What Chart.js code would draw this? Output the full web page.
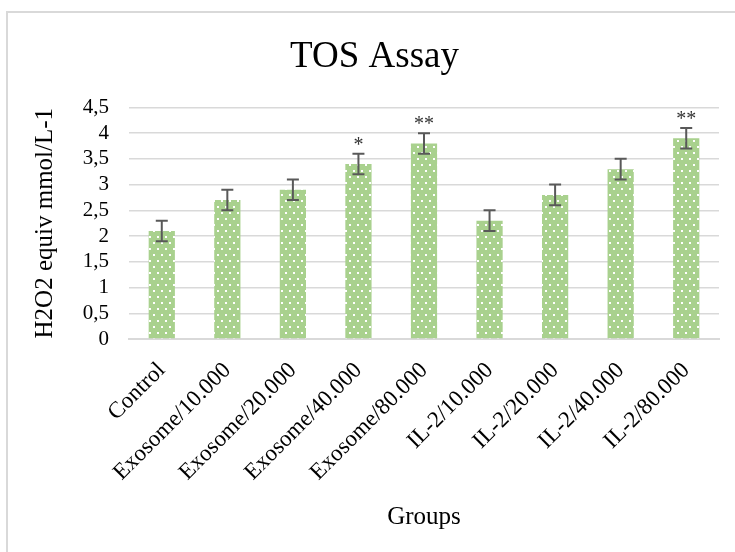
<!DOCTYPE html>
<html>
<head>
<meta charset="utf-8">
<script src="https://cdn.jsdelivr.net/npm/chart.js@4.4.0/dist/chart.umd.min.js"></script>
<style>
  html, body { margin: 0; padding: 0; background: #fff; }
  #wrap { position: relative; width: 735px; height: 552px; }
  #frame { position: absolute; left: 6px; top: 11px; width: 740px; height: 560px; border-left: 2px solid #d9d9d9; border-top: 2px solid #d9d9d9; box-sizing: border-box; }
  canvas { position: absolute; left: 0; top: 0; }
</style>
</head>
<body>
<div id="wrap">
  <div id="frame"></div>
  <canvas id="c" width="735" height="552"></canvas>
</div>
<script>
const categories = ["Control", "Exosome/10.000", "Exosome/20.000", "Exosome/40.000", "Exosome/80.000", "IL-2/10.000", "IL-2/20.000", "IL-2/40.000", "IL-2/80.000"];
const values = [2.1, 2.7, 2.9, 3.4, 3.8, 2.3, 2.8, 3.3, 3.9];
const errors = [0.2, 0.2, 0.2, 0.2, 0.2, 0.2, 0.2, 0.2, 0.2];
const marks = ["", "", "", "*", "**", "", "", "", "**"];
const yTicks = [0, 0.5, 1, 1.5, 2, 2.5, 3, 3.5, 4, 4.5];

function makePattern() {
  const t = document.createElement('canvas');
  t.width = 8; t.height = 12;
  const g = t.getContext('2d');
  g.fillStyle = '#A9D18E';
  g.fillRect(0, 0, 8, 12);
  g.fillStyle = '#ffffff';
  g.fillRect(1, 2, 2, 2);
  g.fillRect(5, 8, 2, 2);
  return g.createPattern(t, 'repeat');
}

const ctx = document.getElementById('c').getContext('2d');

const errPlugin = {
  id: 'errbars',
  afterDatasetsDraw(chart) {
    const c = chart.ctx;
    const x = chart.scales.x, y = chart.scales.y;
    c.save();
    c.strokeStyle = '#595959';
    c.lineWidth = 2;
    values.forEach((v, i) => {
      const px = x.getPixelForValue(i);
      const top = y.getPixelForValue(v + errors[i]);
      const bot = y.getPixelForValue(v - errors[i]);
      c.beginPath();
      c.moveTo(px, top); c.lineTo(px, bot);
      c.moveTo(px - 6, top); c.lineTo(px + 6, top);
      c.moveTo(px - 6, bot); c.lineTo(px + 6, bot);
      c.stroke();
      if (marks[i]) {
        c.fillStyle = '#333';
        c.font = '20px "Liberation Serif"';
        c.textAlign = 'center';
        c.textBaseline = 'alphabetic';
        c.fillText(marks[i], px, top - 3);
      }
    });
    c.restore();
  }
};

new Chart(ctx, {
  type: 'bar',
  data: {
    labels: categories,
    datasets: [{
      data: values,
      backgroundColor: makePattern(),
      borderWidth: 0,
      categoryPercentage: 1.0,
      barPercentage: 0.4
    }]
  },
  options: {
    responsive: false,
    animation: false,
    events: [],
    layout: { padding: { left: 30, right: 16, top: 0, bottom: 8 } },
    plugins: {
      legend: { display: false },
      tooltip: { enabled: false },
      title: {
        display: true,
        text: 'TOS Assay',
        color: '#000',
        font: { family: 'Liberation Serif', size: 37, weight: 'normal' },
        padding: { top: 35, bottom: 28 }
      }
    },
    scales: {
      x: {
        grid: { display: false },
        border: { display: true, color: '#d9d9d9', width: 2 },
        ticks: {
          color: '#000',
          font: { family: 'Liberation Serif', size: 23 },
          minRotation: 45, maxRotation: 45,
          autoSkip: false,
          padding: 10
        },
        title: {
          display: true,
          text: 'Groups',
          color: '#000',
          font: { family: 'Liberation Serif', size: 25 },
          padding: { top: 0, bottom: 12 }
        },
        afterFit(s) { s.height = 205; }
      },
      y: {
        min: 0, max: 4.5,
        afterBuildTicks(s) { s.ticks = yTicks.map(v => ({ value: v })); },
        grid: { color: '#d9d9d9', lineWidth: 1.5, drawTicks: false },
        border: { display: false },
        ticks: {
          color: '#000',
          font: { family: 'Liberation Serif', size: 21 },
          padding: 20,
          autoSkip: false,
          callback: v => String(v).replace('.', ',')
        },
        title: {
          display: true,
          text: 'H2O2 equiv mmol/L-1',
          color: '#000',
          font: { family: 'Liberation Serif', size: 25 },
          padding: { top: 0, bottom: 4 }
        },
        afterFit(s) { s.width = 99; }
      }
    }
  },
  plugins: [errPlugin]
});
</script>
</body>
</html>
